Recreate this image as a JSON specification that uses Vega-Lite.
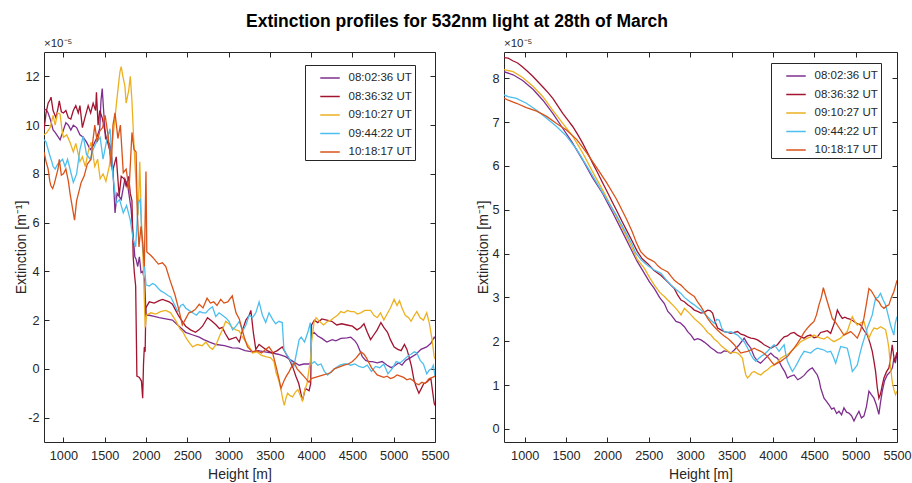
{
"$schema": "https://vega.github.io/schema/vega-lite/v6.json",
"background": "white",
"padding": {"left": 14, "top": 13, "right": 0, "bottom": 0},
"title": {"text": "Extinction profiles for 532nm light at 28th of March", "fontSize": 17.5, "fontWeight": "bold", "color": "#000000", "anchor": "middle", "offset": 7, "dx": -6},
"config": {
  "font": "Liberation Sans",
  "view": {"stroke": "#262626", "strokeWidth": 1},
  "axis": {"domain": false, "offset": -5, "tickSize": 5, "tickWidth": 1, "tickColor": "#262626", "labelColor": "#262626", "titleColor": "#262626", "labelFontSize": 12.7, "titleFontSize": 14, "titleFontWeight": "normal", "grid": false, "labelOverlap": false, "labelFlush": false, "labelBound": false},
  "axisX": {"labelPadding": 7},
  "axisY": {"labelPadding": 5},
  "legend": {"strokeColor": "#262626", "fillColor": "white", "padding": 2.5, "symbolType": "stroke", "symbolSize": 380, "symbolStrokeWidth": 1.5, "labelFontSize": 11.5, "labelColor": "#262626", "labelOffset": 8, "rowPadding": 2.5, "symbolOffset": 12}
},
"datasets": {
"L": [
{"t":"08:02:36 UT","h":765,"e":10.6},{"t":"08:02:36 UT","h":790,"e":10.65},{"t":"08:02:36 UT","h":815,"e":10.5},{"t":"08:02:36 UT","h":845,"e":10.2},{"t":"08:02:36 UT","h":875,"e":9.8},{"t":"08:02:36 UT","h":900,"e":9.7},{"t":"08:02:36 UT","h":930,"e":9.55},{"t":"08:02:36 UT","h":960,"e":9.4},{"t":"08:02:36 UT","h":990,"e":9.7},{"t":"08:02:36 UT","h":1030,"e":10.1},{"t":"08:02:36 UT","h":1060,"e":10.0},{"t":"08:02:36 UT","h":1090,"e":9.8},{"t":"08:02:36 UT","h":1120,"e":10.0},{"t":"08:02:36 UT","h":1160,"e":9.9},{"t":"08:02:36 UT","h":1200,"e":9.6},{"t":"08:02:36 UT","h":1240,"e":9.5},{"t":"08:02:36 UT","h":1280,"e":9.3},{"t":"08:02:36 UT","h":1325,"e":9.0},{"t":"08:02:36 UT","h":1360,"e":9.15},{"t":"08:02:36 UT","h":1400,"e":9.45},{"t":"08:02:36 UT","h":1440,"e":9.85},{"t":"08:02:36 UT","h":1455,"e":11.0},{"t":"08:02:36 UT","h":1470,"e":11.5},{"t":"08:02:36 UT","h":1485,"e":10.7},{"t":"08:02:36 UT","h":1510,"e":9.45},{"t":"08:02:36 UT","h":1565,"e":9.2},{"t":"08:02:36 UT","h":1600,"e":8.2},{"t":"08:02:36 UT","h":1625,"e":6.4},{"t":"08:02:36 UT","h":1650,"e":7.2},{"t":"08:02:36 UT","h":1700,"e":6.95},{"t":"08:02:36 UT","h":1745,"e":7.8},{"t":"08:02:36 UT","h":1780,"e":7.5},{"t":"08:02:36 UT","h":1820,"e":6.55},{"t":"08:02:36 UT","h":1845,"e":5.45},{"t":"08:02:36 UT","h":1865,"e":4.6},{"t":"08:02:36 UT","h":1880,"e":4.5},{"t":"08:02:36 UT","h":1900,"e":4.2},{"t":"08:02:36 UT","h":1920,"e":4.6},{"t":"08:02:36 UT","h":1940,"e":3.95},{"t":"08:02:36 UT","h":1960,"e":4.0},{"t":"08:02:36 UT","h":1985,"e":3.6},{"t":"08:02:36 UT","h":2000,"e":2.2},{"t":"08:02:36 UT","h":2040,"e":2.2},{"t":"08:02:36 UT","h":2100,"e":2.15},{"t":"08:02:36 UT","h":2160,"e":2.1},{"t":"08:02:36 UT","h":2240,"e":2.05},{"t":"08:02:36 UT","h":2320,"e":2.0},{"t":"08:02:36 UT","h":2400,"e":1.75},{"t":"08:02:36 UT","h":2480,"e":1.5},{"t":"08:02:36 UT","h":2560,"e":1.4},{"t":"08:02:36 UT","h":2645,"e":1.3},{"t":"08:02:36 UT","h":2700,"e":1.2},{"t":"08:02:36 UT","h":2770,"e":1.1},{"t":"08:02:36 UT","h":2850,"e":1.0},{"t":"08:02:36 UT","h":2950,"e":0.95},{"t":"08:02:36 UT","h":3045,"e":0.86},{"t":"08:02:36 UT","h":3120,"e":0.85},{"t":"08:02:36 UT","h":3200,"e":0.75},{"t":"08:02:36 UT","h":3290,"e":0.7},{"t":"08:02:36 UT","h":3360,"e":0.75},{"t":"08:02:36 UT","h":3440,"e":0.7},{"t":"08:02:36 UT","h":3530,"e":0.65},{"t":"08:02:36 UT","h":3600,"e":0.6},{"t":"08:02:36 UT","h":3690,"e":0.5},{"t":"08:02:36 UT","h":3760,"e":0.35},{"t":"08:02:36 UT","h":3855,"e":0.15},{"t":"08:02:36 UT","h":3910,"e":0.2},{"t":"08:02:36 UT","h":3970,"e":0.2},{"t":"08:02:36 UT","h":3995,"e":0.25},{"t":"08:02:36 UT","h":4005,"e":1.4},{"t":"08:02:36 UT","h":4035,"e":1.5},{"t":"08:02:36 UT","h":4080,"e":1.35},{"t":"08:02:36 UT","h":4130,"e":1.25},{"t":"08:02:36 UT","h":4190,"e":1.1},{"t":"08:02:36 UT","h":4255,"e":1.2},{"t":"08:02:36 UT","h":4300,"e":1.15},{"t":"08:02:36 UT","h":4360,"e":1.25},{"t":"08:02:36 UT","h":4435,"e":1.27},{"t":"08:02:36 UT","h":4480,"e":1.3},{"t":"08:02:36 UT","h":4530,"e":1.15},{"t":"08:02:36 UT","h":4560,"e":1.0},{"t":"08:02:36 UT","h":4590,"e":0.75},{"t":"08:02:36 UT","h":4620,"e":0.5},{"t":"08:02:36 UT","h":4660,"e":0.35},{"t":"08:02:36 UT","h":4700,"e":0.3},{"t":"08:02:36 UT","h":4740,"e":0.3},{"t":"08:02:36 UT","h":4800,"e":0.25},{"t":"08:02:36 UT","h":4860,"e":0.3},{"t":"08:02:36 UT","h":4920,"e":0.15},{"t":"08:02:36 UT","h":4970,"e":0.05},{"t":"08:02:36 UT","h":5000,"e":0.1},{"t":"08:02:36 UT","h":5060,"e":0.25},{"t":"08:02:36 UT","h":5100,"e":0.15},{"t":"08:02:36 UT","h":5145,"e":0.35},{"t":"08:02:36 UT","h":5200,"e":0.45},{"t":"08:02:36 UT","h":5270,"e":0.6},{"t":"08:02:36 UT","h":5330,"e":0.8},{"t":"08:02:36 UT","h":5400,"e":0.9},{"t":"08:02:36 UT","h":5450,"e":1.05},{"t":"08:02:36 UT","h":5490,"e":1.3},{"t":"08:02:36 UT","h":5500,"e":1.25},
{"t":"08:36:32 UT","h":765,"e":9.8},{"t":"08:36:32 UT","h":790,"e":10.5},{"t":"08:36:32 UT","h":815,"e":10.9},{"t":"08:36:32 UT","h":840,"e":11.05},{"t":"08:36:32 UT","h":850,"e":11.15},{"t":"08:36:32 UT","h":875,"e":10.6},{"t":"08:36:32 UT","h":910,"e":10.3},{"t":"08:36:32 UT","h":935,"e":10.7},{"t":"08:36:32 UT","h":950,"e":11.0},{"t":"08:36:32 UT","h":975,"e":10.55},{"t":"08:36:32 UT","h":1000,"e":10.5},{"t":"08:36:32 UT","h":1030,"e":10.6},{"t":"08:36:32 UT","h":1060,"e":10.3},{"t":"08:36:32 UT","h":1090,"e":10.25},{"t":"08:36:32 UT","h":1120,"e":10.6},{"t":"08:36:32 UT","h":1150,"e":10.8},{"t":"08:36:32 UT","h":1180,"e":10.5},{"t":"08:36:32 UT","h":1200,"e":10.8},{"t":"08:36:32 UT","h":1230,"e":9.9},{"t":"08:36:32 UT","h":1260,"e":10.3},{"t":"08:36:32 UT","h":1300,"e":10.8},{"t":"08:36:32 UT","h":1330,"e":10.5},{"t":"08:36:32 UT","h":1360,"e":10.9},{"t":"08:36:32 UT","h":1390,"e":10.6},{"t":"08:36:32 UT","h":1400,"e":11.35},{"t":"08:36:32 UT","h":1420,"e":10.0},{"t":"08:36:32 UT","h":1440,"e":10.6},{"t":"08:36:32 UT","h":1470,"e":10.3},{"t":"08:36:32 UT","h":1515,"e":9.55},{"t":"08:36:32 UT","h":1560,"e":9.0},{"t":"08:36:32 UT","h":1595,"e":8.1},{"t":"08:36:32 UT","h":1640,"e":8.7},{"t":"08:36:32 UT","h":1675,"e":7.1},{"t":"08:36:32 UT","h":1700,"e":7.9},{"t":"08:36:32 UT","h":1735,"e":7.8},{"t":"08:36:32 UT","h":1760,"e":7.5},{"t":"08:36:32 UT","h":1790,"e":7.9},{"t":"08:36:32 UT","h":1810,"e":7.2},{"t":"08:36:32 UT","h":1830,"e":6.9},{"t":"08:36:32 UT","h":1845,"e":4.6},{"t":"08:36:32 UT","h":1860,"e":3.9},{"t":"08:36:32 UT","h":1875,"e":3.4},{"t":"08:36:32 UT","h":1890,"e":-0.3},{"t":"08:36:32 UT","h":1920,"e":-0.35},{"t":"08:36:32 UT","h":1945,"e":-0.5},{"t":"08:36:32 UT","h":1960,"e":-1.2},{"t":"08:36:32 UT","h":1970,"e":0.2},{"t":"08:36:32 UT","h":1980,"e":0.9},{"t":"08:36:32 UT","h":1990,"e":0.7},{"t":"08:36:32 UT","h":1998,"e":2.5},{"t":"08:36:32 UT","h":2040,"e":2.75},{"t":"08:36:32 UT","h":2100,"e":2.7},{"t":"08:36:32 UT","h":2160,"e":2.8},{"t":"08:36:32 UT","h":2200,"e":2.85},{"t":"08:36:32 UT","h":2240,"e":2.8},{"t":"08:36:32 UT","h":2280,"e":2.75},{"t":"08:36:32 UT","h":2320,"e":2.65},{"t":"08:36:32 UT","h":2360,"e":2.4},{"t":"08:36:32 UT","h":2400,"e":2.15},{"t":"08:36:32 UT","h":2440,"e":1.95},{"t":"08:36:32 UT","h":2480,"e":1.75},{"t":"08:36:32 UT","h":2540,"e":1.6},{"t":"08:36:32 UT","h":2600,"e":1.5},{"t":"08:36:32 UT","h":2640,"e":1.6},{"t":"08:36:32 UT","h":2685,"e":1.75},{"t":"08:36:32 UT","h":2745,"e":2.1},{"t":"08:36:32 UT","h":2800,"e":1.95},{"t":"08:36:32 UT","h":2850,"e":1.8},{"t":"08:36:32 UT","h":2890,"e":1.65},{"t":"08:36:32 UT","h":2925,"e":1.7},{"t":"08:36:32 UT","h":2960,"e":1.45},{"t":"08:36:32 UT","h":3005,"e":1.2},{"t":"08:36:32 UT","h":3050,"e":1.25},{"t":"08:36:32 UT","h":3090,"e":1.3},{"t":"08:36:32 UT","h":3130,"e":1.1},{"t":"08:36:32 UT","h":3170,"e":1.6},{"t":"08:36:32 UT","h":3210,"e":2.0},{"t":"08:36:32 UT","h":3250,"e":2.2},{"t":"08:36:32 UT","h":3270,"e":2.4},{"t":"08:36:32 UT","h":3300,"e":1.5},{"t":"08:36:32 UT","h":3330,"e":0.8},{"t":"08:36:32 UT","h":3370,"e":1.0},{"t":"08:36:32 UT","h":3410,"e":0.9},{"t":"08:36:32 UT","h":3470,"e":0.75},{"t":"08:36:32 UT","h":3530,"e":0.65},{"t":"08:36:32 UT","h":3590,"e":0.75},{"t":"08:36:32 UT","h":3650,"e":0.9},{"t":"08:36:32 UT","h":3700,"e":0.6},{"t":"08:36:32 UT","h":3735,"e":0.4},{"t":"08:36:32 UT","h":3780,"e":0.05},{"t":"08:36:32 UT","h":3815,"e":-0.3},{"t":"08:36:32 UT","h":3850,"e":-0.6},{"t":"08:36:32 UT","h":3895,"e":-1.3},{"t":"08:36:32 UT","h":3930,"e":-0.8},{"t":"08:36:32 UT","h":3975,"e":-0.9},{"t":"08:36:32 UT","h":3995,"e":-0.6},{"t":"08:36:32 UT","h":4005,"e":1.8},{"t":"08:36:32 UT","h":4040,"e":2.0},{"t":"08:36:32 UT","h":4080,"e":1.9},{"t":"08:36:32 UT","h":4130,"e":2.05},{"t":"08:36:32 UT","h":4190,"e":2.0},{"t":"08:36:32 UT","h":4250,"e":1.95},{"t":"08:36:32 UT","h":4310,"e":1.8},{"t":"08:36:32 UT","h":4370,"e":1.85},{"t":"08:36:32 UT","h":4435,"e":1.8},{"t":"08:36:32 UT","h":4500,"e":1.75},{"t":"08:36:32 UT","h":4555,"e":1.6},{"t":"08:36:32 UT","h":4600,"e":1.7},{"t":"08:36:32 UT","h":4640,"e":1.85},{"t":"08:36:32 UT","h":4680,"e":1.5},{"t":"08:36:32 UT","h":4720,"e":1.2},{"t":"08:36:32 UT","h":4760,"e":1.4},{"t":"08:36:32 UT","h":4800,"e":1.6},{"t":"08:36:32 UT","h":4845,"e":1.9},{"t":"08:36:32 UT","h":4880,"e":1.7},{"t":"08:36:32 UT","h":4925,"e":1.5},{"t":"08:36:32 UT","h":4960,"e":1.2},{"t":"08:36:32 UT","h":5005,"e":0.9},{"t":"08:36:32 UT","h":5050,"e":0.8},{"t":"08:36:32 UT","h":5090,"e":0.75},{"t":"08:36:32 UT","h":5130,"e":1.0},{"t":"08:36:32 UT","h":5160,"e":0.8},{"t":"08:36:32 UT","h":5185,"e":0.5},{"t":"08:36:32 UT","h":5215,"e":0.1},{"t":"08:36:32 UT","h":5245,"e":-0.45},{"t":"08:36:32 UT","h":5275,"e":-0.75},{"t":"08:36:32 UT","h":5305,"e":-1.0},{"t":"08:36:32 UT","h":5335,"e":-0.8},{"t":"08:36:32 UT","h":5365,"e":-0.6},{"t":"08:36:32 UT","h":5400,"e":-0.55},{"t":"08:36:32 UT","h":5430,"e":-0.45},{"t":"08:36:32 UT","h":5450,"e":-0.4},{"t":"08:36:32 UT","h":5470,"e":-0.9},{"t":"08:36:32 UT","h":5490,"e":-1.4},{"t":"08:36:32 UT","h":5500,"e":-1.5},
{"t":"09:10:27 UT","h":765,"e":9.6},{"t":"09:10:27 UT","h":800,"e":9.7},{"t":"09:10:27 UT","h":840,"e":9.9},{"t":"09:10:27 UT","h":875,"e":10.4},{"t":"09:10:27 UT","h":900,"e":10.0},{"t":"09:10:27 UT","h":930,"e":10.5},{"t":"09:10:27 UT","h":960,"e":10.45},{"t":"09:10:27 UT","h":985,"e":9.75},{"t":"09:10:27 UT","h":1000,"e":9.5},{"t":"09:10:27 UT","h":1040,"e":9.6},{"t":"09:10:27 UT","h":1080,"e":9.3},{"t":"09:10:27 UT","h":1120,"e":8.9},{"t":"09:10:27 UT","h":1150,"e":9.25},{"t":"09:10:27 UT","h":1200,"e":8.5},{"t":"09:10:27 UT","h":1230,"e":8.7},{"t":"09:10:27 UT","h":1265,"e":8.3},{"t":"09:10:27 UT","h":1300,"e":8.9},{"t":"09:10:27 UT","h":1335,"e":9.3},{"t":"09:10:27 UT","h":1380,"e":8.3},{"t":"09:10:27 UT","h":1415,"e":8.6},{"t":"09:10:27 UT","h":1445,"e":7.8},{"t":"09:10:27 UT","h":1480,"e":8.0},{"t":"09:10:27 UT","h":1515,"e":7.7},{"t":"09:10:27 UT","h":1555,"e":8.3},{"t":"09:10:27 UT","h":1600,"e":9.5},{"t":"09:10:27 UT","h":1640,"e":10.8},{"t":"09:10:27 UT","h":1665,"e":11.6},{"t":"09:10:27 UT","h":1685,"e":12.2},{"t":"09:10:27 UT","h":1700,"e":12.4},{"t":"09:10:27 UT","h":1720,"e":12.0},{"t":"09:10:27 UT","h":1745,"e":11.6},{"t":"09:10:27 UT","h":1760,"e":10.9},{"t":"09:10:27 UT","h":1790,"e":11.4},{"t":"09:10:27 UT","h":1810,"e":12.0},{"t":"09:10:27 UT","h":1830,"e":11.0},{"t":"09:10:27 UT","h":1850,"e":9.5},{"t":"09:10:27 UT","h":1870,"e":8.2},{"t":"09:10:27 UT","h":1890,"e":7.0},{"t":"09:10:27 UT","h":1905,"e":6.3},{"t":"09:10:27 UT","h":1925,"e":8.5},{"t":"09:10:27 UT","h":1945,"e":6.0},{"t":"09:10:27 UT","h":1965,"e":4.5},{"t":"09:10:27 UT","h":1990,"e":1.7},{"t":"09:10:27 UT","h":2005,"e":2.2},{"t":"09:10:27 UT","h":2060,"e":2.3},{"t":"09:10:27 UT","h":2120,"e":2.25},{"t":"09:10:27 UT","h":2175,"e":2.35},{"t":"09:10:27 UT","h":2240,"e":2.4},{"t":"09:10:27 UT","h":2300,"e":2.3},{"t":"09:10:27 UT","h":2365,"e":1.95},{"t":"09:10:27 UT","h":2410,"e":1.65},{"t":"09:10:27 UT","h":2450,"e":1.5},{"t":"09:10:27 UT","h":2480,"e":1.3},{"t":"09:10:27 UT","h":2520,"e":1.1},{"t":"09:10:27 UT","h":2565,"e":0.9},{"t":"09:10:27 UT","h":2620,"e":1.0},{"t":"09:10:27 UT","h":2680,"e":0.95},{"t":"09:10:27 UT","h":2725,"e":1.1},{"t":"09:10:27 UT","h":2770,"e":0.9},{"t":"09:10:27 UT","h":2805,"e":0.8},{"t":"09:10:27 UT","h":2850,"e":1.0},{"t":"09:10:27 UT","h":2885,"e":1.3},{"t":"09:10:27 UT","h":2925,"e":1.6},{"t":"09:10:27 UT","h":2965,"e":1.95},{"t":"09:10:27 UT","h":3005,"e":1.85},{"t":"09:10:27 UT","h":3045,"e":1.7},{"t":"09:10:27 UT","h":3090,"e":1.6},{"t":"09:10:27 UT","h":3130,"e":1.55},{"t":"09:10:27 UT","h":3170,"e":1.3},{"t":"09:10:27 UT","h":3210,"e":1.1},{"t":"09:10:27 UT","h":3250,"e":0.9},{"t":"09:10:27 UT","h":3290,"e":0.65},{"t":"09:10:27 UT","h":3340,"e":0.7},{"t":"09:10:27 UT","h":3400,"e":0.55},{"t":"09:10:27 UT","h":3450,"e":0.5},{"t":"09:10:27 UT","h":3510,"e":0.45},{"t":"09:10:27 UT","h":3550,"e":0.3},{"t":"09:10:27 UT","h":3575,"e":-0.15},{"t":"09:10:27 UT","h":3610,"e":-0.5},{"t":"09:10:27 UT","h":3635,"e":-0.85},{"t":"09:10:27 UT","h":3660,"e":-1.3},{"t":"09:10:27 UT","h":3675,"e":-1.5},{"t":"09:10:27 UT","h":3695,"e":-1.2},{"t":"09:10:27 UT","h":3715,"e":-1.0},{"t":"09:10:27 UT","h":3745,"e":-1.1},{"t":"09:10:27 UT","h":3775,"e":-1.15},{"t":"09:10:27 UT","h":3810,"e":-0.95},{"t":"09:10:27 UT","h":3840,"e":-0.85},{"t":"09:10:27 UT","h":3870,"e":-1.1},{"t":"09:10:27 UT","h":3895,"e":-1.3},{"t":"09:10:27 UT","h":3920,"e":-0.9},{"t":"09:10:27 UT","h":3950,"e":-0.6},{"t":"09:10:27 UT","h":3975,"e":0.0},{"t":"09:10:27 UT","h":3990,"e":0.3},{"t":"09:10:27 UT","h":4005,"e":1.1},{"t":"09:10:27 UT","h":4035,"e":1.9},{"t":"09:10:27 UT","h":4060,"e":2.1},{"t":"09:10:27 UT","h":4100,"e":1.95},{"t":"09:10:27 UT","h":4150,"e":1.8},{"t":"09:10:27 UT","h":4200,"e":1.95},{"t":"09:10:27 UT","h":4240,"e":2.0},{"t":"09:10:27 UT","h":4275,"e":2.1},{"t":"09:10:27 UT","h":4320,"e":2.2},{"t":"09:10:27 UT","h":4360,"e":2.35},{"t":"09:10:27 UT","h":4400,"e":2.3},{"t":"09:10:27 UT","h":4440,"e":2.4},{"t":"09:10:27 UT","h":4480,"e":2.35},{"t":"09:10:27 UT","h":4520,"e":2.35},{"t":"09:10:27 UT","h":4560,"e":2.25},{"t":"09:10:27 UT","h":4600,"e":2.3},{"t":"09:10:27 UT","h":4650,"e":2.4},{"t":"09:10:27 UT","h":4720,"e":2.4},{"t":"09:10:27 UT","h":4760,"e":2.2},{"t":"09:10:27 UT","h":4800,"e":2.1},{"t":"09:10:27 UT","h":4840,"e":2.3},{"t":"09:10:27 UT","h":4880,"e":2.0},{"t":"09:10:27 UT","h":4920,"e":2.25},{"t":"09:10:27 UT","h":4960,"e":2.5},{"t":"09:10:27 UT","h":5005,"e":2.85},{"t":"09:10:27 UT","h":5040,"e":2.6},{"t":"09:10:27 UT","h":5070,"e":2.8},{"t":"09:10:27 UT","h":5100,"e":2.5},{"t":"09:10:27 UT","h":5140,"e":2.2},{"t":"09:10:27 UT","h":5180,"e":2.1},{"t":"09:10:27 UT","h":5210,"e":1.95},{"t":"09:10:27 UT","h":5250,"e":2.2},{"t":"09:10:27 UT","h":5280,"e":2.35},{"t":"09:10:27 UT","h":5320,"e":2.1},{"t":"09:10:27 UT","h":5360,"e":2.0},{"t":"09:10:27 UT","h":5400,"e":2.3},{"t":"09:10:27 UT","h":5430,"e":1.9},{"t":"09:10:27 UT","h":5465,"e":1.2},{"t":"09:10:27 UT","h":5490,"e":0.5},{"t":"09:10:27 UT","h":5500,"e":0.4},
{"t":"09:44:22 UT","h":765,"e":9.4},{"t":"09:44:22 UT","h":790,"e":9.3},{"t":"09:44:22 UT","h":815,"e":9.0},{"t":"09:44:22 UT","h":840,"e":8.7},{"t":"09:44:22 UT","h":860,"e":8.5},{"t":"09:44:22 UT","h":875,"e":8.3},{"t":"09:44:22 UT","h":900,"e":8.2},{"t":"09:44:22 UT","h":930,"e":8.4},{"t":"09:44:22 UT","h":960,"e":8.5},{"t":"09:44:22 UT","h":990,"e":8.6},{"t":"09:44:22 UT","h":1020,"e":8.3},{"t":"09:44:22 UT","h":1050,"e":8.6},{"t":"09:44:22 UT","h":1080,"e":8.2},{"t":"09:44:22 UT","h":1120,"e":7.65},{"t":"09:44:22 UT","h":1160,"e":8.0},{"t":"09:44:22 UT","h":1200,"e":9.0},{"t":"09:44:22 UT","h":1240,"e":9.55},{"t":"09:44:22 UT","h":1280,"e":8.8},{"t":"09:44:22 UT","h":1325,"e":8.6},{"t":"09:44:22 UT","h":1360,"e":9.0},{"t":"09:44:22 UT","h":1400,"e":9.3},{"t":"09:44:22 UT","h":1445,"e":9.5},{"t":"09:44:22 UT","h":1480,"e":8.6},{"t":"09:44:22 UT","h":1520,"e":9.3},{"t":"09:44:22 UT","h":1565,"e":9.85},{"t":"09:44:22 UT","h":1600,"e":7.9},{"t":"09:44:22 UT","h":1640,"e":6.8},{"t":"09:44:22 UT","h":1680,"e":6.95},{"t":"09:44:22 UT","h":1725,"e":6.4},{"t":"09:44:22 UT","h":1765,"e":6.7},{"t":"09:44:22 UT","h":1810,"e":6.1},{"t":"09:44:22 UT","h":1845,"e":5.3},{"t":"09:44:22 UT","h":1875,"e":5.0},{"t":"09:44:22 UT","h":1905,"e":6.8},{"t":"09:44:22 UT","h":1930,"e":6.95},{"t":"09:44:22 UT","h":1950,"e":5.5},{"t":"09:44:22 UT","h":1975,"e":4.5},{"t":"09:44:22 UT","h":2000,"e":3.45},{"t":"09:44:22 UT","h":2040,"e":3.4},{"t":"09:44:22 UT","h":2080,"e":3.5},{"t":"09:44:22 UT","h":2110,"e":3.45},{"t":"09:44:22 UT","h":2150,"e":3.3},{"t":"09:44:22 UT","h":2180,"e":3.2},{"t":"09:44:22 UT","h":2230,"e":3.1},{"t":"09:44:22 UT","h":2270,"e":3.0},{"t":"09:44:22 UT","h":2300,"e":2.95},{"t":"09:44:22 UT","h":2350,"e":2.6},{"t":"09:44:22 UT","h":2385,"e":2.35},{"t":"09:44:22 UT","h":2420,"e":2.6},{"t":"09:44:22 UT","h":2450,"e":2.65},{"t":"09:44:22 UT","h":2480,"e":2.5},{"t":"09:44:22 UT","h":2520,"e":2.4},{"t":"09:44:22 UT","h":2565,"e":2.3},{"t":"09:44:22 UT","h":2610,"e":2.2},{"t":"09:44:22 UT","h":2650,"e":2.35},{"t":"09:44:22 UT","h":2690,"e":2.3},{"t":"09:44:22 UT","h":2725,"e":2.3},{"t":"09:44:22 UT","h":2765,"e":2.45},{"t":"09:44:22 UT","h":2805,"e":2.55},{"t":"09:44:22 UT","h":2845,"e":2.15},{"t":"09:44:22 UT","h":2885,"e":2.3},{"t":"09:44:22 UT","h":2925,"e":2.2},{"t":"09:44:22 UT","h":2965,"e":2.1},{"t":"09:44:22 UT","h":3005,"e":1.95},{"t":"09:44:22 UT","h":3050,"e":1.6},{"t":"09:44:22 UT","h":3090,"e":1.75},{"t":"09:44:22 UT","h":3130,"e":1.95},{"t":"09:44:22 UT","h":3170,"e":1.55},{"t":"09:44:22 UT","h":3210,"e":1.8},{"t":"09:44:22 UT","h":3250,"e":2.2},{"t":"09:44:22 UT","h":3290,"e":2.1},{"t":"09:44:22 UT","h":3330,"e":2.3},{"t":"09:44:22 UT","h":3370,"e":2.75},{"t":"09:44:22 UT","h":3410,"e":2.2},{"t":"09:44:22 UT","h":3450,"e":1.9},{"t":"09:44:22 UT","h":3490,"e":2.3},{"t":"09:44:22 UT","h":3530,"e":2.05},{"t":"09:44:22 UT","h":3570,"e":1.85},{"t":"09:44:22 UT","h":3610,"e":1.95},{"t":"09:44:22 UT","h":3650,"e":1.9},{"t":"09:44:22 UT","h":3670,"e":0.8},{"t":"09:44:22 UT","h":3700,"e":0.6},{"t":"09:44:22 UT","h":3740,"e":0.4},{"t":"09:44:22 UT","h":3790,"e":0.1},{"t":"09:44:22 UT","h":3820,"e":0.6},{"t":"09:44:22 UT","h":3855,"e":1.2},{"t":"09:44:22 UT","h":3880,"e":1.3},{"t":"09:44:22 UT","h":3920,"e":1.1},{"t":"09:44:22 UT","h":3960,"e":1.5},{"t":"09:44:22 UT","h":3990,"e":1.9},{"t":"09:44:22 UT","h":4005,"e":0.2},{"t":"09:44:22 UT","h":4040,"e":0.3},{"t":"09:44:22 UT","h":4080,"e":0.15},{"t":"09:44:22 UT","h":4120,"e":0.2},{"t":"09:44:22 UT","h":4160,"e":-0.1},{"t":"09:44:22 UT","h":4200,"e":-0.25},{"t":"09:44:22 UT","h":4250,"e":-0.1},{"t":"09:44:22 UT","h":4300,"e":0.05},{"t":"09:44:22 UT","h":4350,"e":0.15},{"t":"09:44:22 UT","h":4400,"e":0.2},{"t":"09:44:22 UT","h":4435,"e":0.2},{"t":"09:44:22 UT","h":4480,"e":0.15},{"t":"09:44:22 UT","h":4530,"e":0.2},{"t":"09:44:22 UT","h":4580,"e":0.1},{"t":"09:44:22 UT","h":4630,"e":0.05},{"t":"09:44:22 UT","h":4680,"e":0.15},{"t":"09:44:22 UT","h":4730,"e":-0.1},{"t":"09:44:22 UT","h":4780,"e":0.1},{"t":"09:44:22 UT","h":4830,"e":0.05},{"t":"09:44:22 UT","h":4880,"e":0.2},{"t":"09:44:22 UT","h":4930,"e":-0.2},{"t":"09:44:22 UT","h":4980,"e":0.0},{"t":"09:44:22 UT","h":5030,"e":0.3},{"t":"09:44:22 UT","h":5080,"e":0.25},{"t":"09:44:22 UT","h":5130,"e":0.4},{"t":"09:44:22 UT","h":5180,"e":0.55},{"t":"09:44:22 UT","h":5210,"e":0.6},{"t":"09:44:22 UT","h":5250,"e":0.7},{"t":"09:44:22 UT","h":5280,"e":0.65},{"t":"09:44:22 UT","h":5320,"e":0.35},{"t":"09:44:22 UT","h":5360,"e":0.2},{"t":"09:44:22 UT","h":5400,"e":-0.2},{"t":"09:44:22 UT","h":5430,"e":-0.05},{"t":"09:44:22 UT","h":5460,"e":0.0},{"t":"09:44:22 UT","h":5480,"e":0.15},{"t":"09:44:22 UT","h":5500,"e":-0.3},
{"t":"10:18:17 UT","h":765,"e":8.9},{"t":"10:18:17 UT","h":790,"e":8.5},{"t":"10:18:17 UT","h":815,"e":8.2},{"t":"10:18:17 UT","h":835,"e":7.7},{"t":"10:18:17 UT","h":850,"e":7.5},{"t":"10:18:17 UT","h":870,"e":7.4},{"t":"10:18:17 UT","h":890,"e":7.6},{"t":"10:18:17 UT","h":935,"e":8.2},{"t":"10:18:17 UT","h":950,"e":8.6},{"t":"10:18:17 UT","h":975,"e":7.95},{"t":"10:18:17 UT","h":1000,"e":8.0},{"t":"10:18:17 UT","h":1030,"e":8.2},{"t":"10:18:17 UT","h":1060,"e":7.7},{"t":"10:18:17 UT","h":1080,"e":7.2},{"t":"10:18:17 UT","h":1100,"e":6.8},{"t":"10:18:17 UT","h":1120,"e":6.4},{"t":"10:18:17 UT","h":1135,"e":6.1},{"t":"10:18:17 UT","h":1160,"e":6.9},{"t":"10:18:17 UT","h":1190,"e":7.3},{"t":"10:18:17 UT","h":1215,"e":7.65},{"t":"10:18:17 UT","h":1250,"e":7.9},{"t":"10:18:17 UT","h":1290,"e":8.4},{"t":"10:18:17 UT","h":1335,"e":8.6},{"t":"10:18:17 UT","h":1355,"e":9.3},{"t":"10:18:17 UT","h":1380,"e":10.0},{"t":"10:18:17 UT","h":1410,"e":9.3},{"t":"10:18:17 UT","h":1440,"e":9.75},{"t":"10:18:17 UT","h":1475,"e":9.9},{"t":"10:18:17 UT","h":1505,"e":10.4},{"t":"10:18:17 UT","h":1540,"e":9.6},{"t":"10:18:17 UT","h":1580,"e":8.3},{"t":"10:18:17 UT","h":1600,"e":10.0},{"t":"10:18:17 UT","h":1625,"e":10.5},{"t":"10:18:17 UT","h":1660,"e":9.45},{"t":"10:18:17 UT","h":1690,"e":10.0},{"t":"10:18:17 UT","h":1725,"e":8.05},{"t":"10:18:17 UT","h":1760,"e":8.2},{"t":"10:18:17 UT","h":1795,"e":7.35},{"t":"10:18:17 UT","h":1830,"e":9.7},{"t":"10:18:17 UT","h":1855,"e":9.0},{"t":"10:18:17 UT","h":1880,"e":8.9},{"t":"10:18:17 UT","h":1895,"e":6.4},{"t":"10:18:17 UT","h":1915,"e":5.0},{"t":"10:18:17 UT","h":1940,"e":5.85},{"t":"10:18:17 UT","h":1960,"e":5.2},{"t":"10:18:17 UT","h":1980,"e":4.2},{"t":"10:18:17 UT","h":2000,"e":8.1},{"t":"10:18:17 UT","h":2010,"e":4.8},{"t":"10:18:17 UT","h":2060,"e":4.65},{"t":"10:18:17 UT","h":2100,"e":4.5},{"t":"10:18:17 UT","h":2150,"e":4.3},{"t":"10:18:17 UT","h":2200,"e":4.35},{"t":"10:18:17 UT","h":2240,"e":4.2},{"t":"10:18:17 UT","h":2290,"e":3.65},{"t":"10:18:17 UT","h":2350,"e":3.05},{"t":"10:18:17 UT","h":2400,"e":2.4},{"t":"10:18:17 UT","h":2440,"e":1.8},{"t":"10:18:17 UT","h":2480,"e":2.05},{"t":"10:18:17 UT","h":2520,"e":2.3},{"t":"10:18:17 UT","h":2560,"e":2.35},{"t":"10:18:17 UT","h":2600,"e":2.45},{"t":"10:18:17 UT","h":2645,"e":2.65},{"t":"10:18:17 UT","h":2690,"e":2.5},{"t":"10:18:17 UT","h":2740,"e":2.9},{"t":"10:18:17 UT","h":2780,"e":2.7},{"t":"10:18:17 UT","h":2820,"e":2.75},{"t":"10:18:17 UT","h":2860,"e":2.6},{"t":"10:18:17 UT","h":2905,"e":2.85},{"t":"10:18:17 UT","h":2945,"e":2.7},{"t":"10:18:17 UT","h":2990,"e":2.75},{"t":"10:18:17 UT","h":3045,"e":3.0},{"t":"10:18:17 UT","h":3070,"e":2.6},{"t":"10:18:17 UT","h":3090,"e":2.3},{"t":"10:18:17 UT","h":3130,"e":2.05},{"t":"10:18:17 UT","h":3190,"e":1.3},{"t":"10:18:17 UT","h":3230,"e":0.9},{"t":"10:18:17 UT","h":3290,"e":0.7},{"t":"10:18:17 UT","h":3340,"e":0.75},{"t":"10:18:17 UT","h":3400,"e":0.65},{"t":"10:18:17 UT","h":3450,"e":0.8},{"t":"10:18:17 UT","h":3490,"e":0.9},{"t":"10:18:17 UT","h":3530,"e":0.7},{"t":"10:18:17 UT","h":3575,"e":0.1},{"t":"10:18:17 UT","h":3610,"e":-0.4},{"t":"10:18:17 UT","h":3635,"e":-0.8},{"t":"10:18:17 UT","h":3670,"e":-0.5},{"t":"10:18:17 UT","h":3700,"e":-0.3},{"t":"10:18:17 UT","h":3735,"e":-0.1},{"t":"10:18:17 UT","h":3765,"e":0.1},{"t":"10:18:17 UT","h":3795,"e":0.25},{"t":"10:18:17 UT","h":3830,"e":0.0},{"t":"10:18:17 UT","h":3870,"e":-0.15},{"t":"10:18:17 UT","h":3910,"e":-0.3},{"t":"10:18:17 UT","h":3950,"e":-0.45},{"t":"10:18:17 UT","h":3975,"e":-0.55},{"t":"10:18:17 UT","h":4000,"e":-0.4},{"t":"10:18:17 UT","h":4050,"e":-0.35},{"t":"10:18:17 UT","h":4100,"e":-0.3},{"t":"10:18:17 UT","h":4150,"e":-0.25},{"t":"10:18:17 UT","h":4200,"e":-0.2},{"t":"10:18:17 UT","h":4240,"e":-0.15},{"t":"10:18:17 UT","h":4280,"e":0.0},{"t":"10:18:17 UT","h":4320,"e":0.05},{"t":"10:18:17 UT","h":4360,"e":0.1},{"t":"10:18:17 UT","h":4400,"e":0.15},{"t":"10:18:17 UT","h":4450,"e":0.2},{"t":"10:18:17 UT","h":4500,"e":0.3},{"t":"10:18:17 UT","h":4545,"e":0.45},{"t":"10:18:17 UT","h":4580,"e":0.6},{"t":"10:18:17 UT","h":4605,"e":0.7},{"t":"10:18:17 UT","h":4640,"e":0.6},{"t":"10:18:17 UT","h":4670,"e":0.45},{"t":"10:18:17 UT","h":4700,"e":0.25},{"t":"10:18:17 UT","h":4730,"e":0.05},{"t":"10:18:17 UT","h":4765,"e":-0.1},{"t":"10:18:17 UT","h":4800,"e":-0.25},{"t":"10:18:17 UT","h":4840,"e":-0.3},{"t":"10:18:17 UT","h":4880,"e":-0.35},{"t":"10:18:17 UT","h":4920,"e":-0.3},{"t":"10:18:17 UT","h":4960,"e":-0.4},{"t":"10:18:17 UT","h":5000,"e":-0.35},{"t":"10:18:17 UT","h":5040,"e":-0.25},{"t":"10:18:17 UT","h":5080,"e":-0.3},{"t":"10:18:17 UT","h":5120,"e":-0.35},{"t":"10:18:17 UT","h":5160,"e":-0.45},{"t":"10:18:17 UT","h":5200,"e":-0.4},{"t":"10:18:17 UT","h":5240,"e":-0.5},{"t":"10:18:17 UT","h":5270,"e":-0.6},{"t":"10:18:17 UT","h":5305,"e":-0.65},{"t":"10:18:17 UT","h":5340,"e":-0.55},{"t":"10:18:17 UT","h":5380,"e":-0.6},{"t":"10:18:17 UT","h":5430,"e":-0.4},{"t":"10:18:17 UT","h":5470,"e":-0.35},{"t":"10:18:17 UT","h":5500,"e":-0.3}
],
"R": [
{"t":"08:02:36 UT","h":750,"e":8.15},{"t":"08:02:36 UT","h":860,"e":8.08},{"t":"08:02:36 UT","h":975,"e":7.95},{"t":"08:02:36 UT","h":1100,"e":7.75},{"t":"08:02:36 UT","h":1220,"e":7.5},{"t":"08:02:36 UT","h":1340,"e":7.2},{"t":"08:02:36 UT","h":1460,"e":6.86},{"t":"08:02:36 UT","h":1580,"e":6.52},{"t":"08:02:36 UT","h":1700,"e":6.14},{"t":"08:02:36 UT","h":1820,"e":5.73},{"t":"08:02:36 UT","h":1940,"e":5.38},{"t":"08:02:36 UT","h":2060,"e":4.95},{"t":"08:02:36 UT","h":2180,"e":4.5},{"t":"08:02:36 UT","h":2280,"e":4.12},{"t":"08:02:36 UT","h":2360,"e":3.82},{"t":"08:02:36 UT","h":2447,"e":3.55},{"t":"08:02:36 UT","h":2510,"e":3.35},{"t":"08:02:36 UT","h":2568,"e":3.2},{"t":"08:02:36 UT","h":2630,"e":3.0},{"t":"08:02:36 UT","h":2688,"e":2.86},{"t":"08:02:36 UT","h":2730,"e":2.68},{"t":"08:02:36 UT","h":2769,"e":2.6},{"t":"08:02:36 UT","h":2829,"e":2.45},{"t":"08:02:36 UT","h":2880,"e":2.42},{"t":"08:02:36 UT","h":2930,"e":2.33},{"t":"08:02:36 UT","h":2970,"e":2.22},{"t":"08:02:36 UT","h":3010,"e":2.14},{"t":"08:02:36 UT","h":3050,"e":2.03},{"t":"08:02:36 UT","h":3090,"e":2.06},{"t":"08:02:36 UT","h":3131,"e":2.03},{"t":"08:02:36 UT","h":3170,"e":1.98},{"t":"08:02:36 UT","h":3211,"e":1.92},{"t":"08:02:36 UT","h":3250,"e":1.85},{"t":"08:02:36 UT","h":3291,"e":1.8},{"t":"08:02:36 UT","h":3330,"e":1.74},{"t":"08:02:36 UT","h":3372,"e":1.73},{"t":"08:02:36 UT","h":3410,"e":1.78},{"t":"08:02:36 UT","h":3452,"e":1.77},{"t":"08:02:36 UT","h":3490,"e":1.72},{"t":"08:02:36 UT","h":3533,"e":1.8},{"t":"08:02:36 UT","h":3593,"e":1.92},{"t":"08:02:36 UT","h":3653,"e":2.07},{"t":"08:02:36 UT","h":3690,"e":1.95},{"t":"08:02:36 UT","h":3734,"e":1.84},{"t":"08:02:36 UT","h":3774,"e":1.65},{"t":"08:02:36 UT","h":3814,"e":1.54},{"t":"08:02:36 UT","h":3850,"e":1.5},{"t":"08:02:36 UT","h":3894,"e":1.58},{"t":"08:02:36 UT","h":3935,"e":1.66},{"t":"08:02:36 UT","h":3975,"e":1.73},{"t":"08:02:36 UT","h":4015,"e":1.65},{"t":"08:02:36 UT","h":4055,"e":1.61},{"t":"08:02:36 UT","h":4085,"e":1.5},{"t":"08:02:36 UT","h":4115,"e":1.39},{"t":"08:02:36 UT","h":4145,"e":1.3},{"t":"08:02:36 UT","h":4176,"e":1.16},{"t":"08:02:36 UT","h":4210,"e":1.2},{"t":"08:02:36 UT","h":4256,"e":1.23},{"t":"08:02:36 UT","h":4300,"e":1.12},{"t":"08:02:36 UT","h":4337,"e":1.16},{"t":"08:02:36 UT","h":4377,"e":1.22},{"t":"08:02:36 UT","h":4417,"e":1.31},{"t":"08:02:36 UT","h":4447,"e":1.36},{"t":"08:02:36 UT","h":4477,"e":1.39},{"t":"08:02:36 UT","h":4510,"e":1.3},{"t":"08:02:36 UT","h":4537,"e":1.23},{"t":"08:02:36 UT","h":4560,"e":1.1},{"t":"08:02:36 UT","h":4578,"e":0.93},{"t":"08:02:36 UT","h":4600,"e":0.8},{"t":"08:02:36 UT","h":4618,"e":0.7},{"t":"08:02:36 UT","h":4650,"e":0.62},{"t":"08:02:36 UT","h":4678,"e":0.55},{"t":"08:02:36 UT","h":4710,"e":0.45},{"t":"08:02:36 UT","h":4738,"e":0.48},{"t":"08:02:36 UT","h":4770,"e":0.35},{"t":"08:02:36 UT","h":4799,"e":0.4},{"t":"08:02:36 UT","h":4830,"e":0.32},{"t":"08:02:36 UT","h":4859,"e":0.48},{"t":"08:02:36 UT","h":4890,"e":0.38},{"t":"08:02:36 UT","h":4919,"e":0.36},{"t":"08:02:36 UT","h":4950,"e":0.3},{"t":"08:02:36 UT","h":4980,"e":0.18},{"t":"08:02:36 UT","h":5010,"e":0.3},{"t":"08:02:36 UT","h":5040,"e":0.4},{"t":"08:02:36 UT","h":5070,"e":0.25},{"t":"08:02:36 UT","h":5100,"e":0.29},{"t":"08:02:36 UT","h":5130,"e":0.5},{"t":"08:02:36 UT","h":5161,"e":0.86},{"t":"08:02:36 UT","h":5190,"e":0.78},{"t":"08:02:36 UT","h":5221,"e":0.7},{"t":"08:02:36 UT","h":5250,"e":0.55},{"t":"08:02:36 UT","h":5281,"e":0.33},{"t":"08:02:36 UT","h":5300,"e":0.6},{"t":"08:02:36 UT","h":5322,"e":0.86},{"t":"08:02:36 UT","h":5350,"e":1.1},{"t":"08:02:36 UT","h":5382,"e":1.23},{"t":"08:02:36 UT","h":5422,"e":1.31},{"t":"08:02:36 UT","h":5445,"e":1.4},{"t":"08:02:36 UT","h":5462,"e":1.61},{"t":"08:02:36 UT","h":5480,"e":1.5},{"t":"08:02:36 UT","h":5500,"e":1.7},
{"t":"08:36:32 UT","h":750,"e":8.47},{"t":"08:36:32 UT","h":800,"e":8.46},{"t":"08:36:32 UT","h":855,"e":8.4},{"t":"08:36:32 UT","h":915,"e":8.35},{"t":"08:36:32 UT","h":975,"e":8.26},{"t":"08:36:32 UT","h":1040,"e":8.15},{"t":"08:36:32 UT","h":1100,"e":8.04},{"t":"08:36:32 UT","h":1160,"e":7.92},{"t":"08:36:32 UT","h":1220,"e":7.8},{"t":"08:36:32 UT","h":1280,"e":7.68},{"t":"08:36:32 UT","h":1340,"e":7.54},{"t":"08:36:32 UT","h":1400,"e":7.37},{"t":"08:36:32 UT","h":1460,"e":7.2},{"t":"08:36:32 UT","h":1520,"e":7.05},{"t":"08:36:32 UT","h":1580,"e":6.9},{"t":"08:36:32 UT","h":1640,"e":6.72},{"t":"08:36:32 UT","h":1700,"e":6.52},{"t":"08:36:32 UT","h":1760,"e":6.3},{"t":"08:36:32 UT","h":1820,"e":6.07},{"t":"08:36:32 UT","h":1880,"e":5.85},{"t":"08:36:32 UT","h":1940,"e":5.62},{"t":"08:36:32 UT","h":2000,"e":5.4},{"t":"08:36:32 UT","h":2060,"e":5.17},{"t":"08:36:32 UT","h":2120,"e":4.95},{"t":"08:36:32 UT","h":2180,"e":4.72},{"t":"08:36:32 UT","h":2240,"e":4.5},{"t":"08:36:32 UT","h":2300,"e":4.28},{"t":"08:36:32 UT","h":2360,"e":4.05},{"t":"08:36:32 UT","h":2420,"e":3.88},{"t":"08:36:32 UT","h":2487,"e":3.77},{"t":"08:36:32 UT","h":2560,"e":3.62},{"t":"08:36:32 UT","h":2648,"e":3.5},{"t":"08:36:32 UT","h":2730,"e":3.35},{"t":"08:36:32 UT","h":2809,"e":3.2},{"t":"08:36:32 UT","h":2850,"e":3.05},{"t":"08:36:32 UT","h":2889,"e":2.94},{"t":"08:36:32 UT","h":2930,"e":2.9},{"t":"08:36:32 UT","h":2970,"e":2.83},{"t":"08:36:32 UT","h":3010,"e":2.78},{"t":"08:36:32 UT","h":3050,"e":2.71},{"t":"08:36:32 UT","h":3090,"e":2.68},{"t":"08:36:32 UT","h":3131,"e":2.64},{"t":"08:36:32 UT","h":3170,"e":2.66},{"t":"08:36:32 UT","h":3211,"e":2.71},{"t":"08:36:32 UT","h":3240,"e":2.7},{"t":"08:36:32 UT","h":3271,"e":2.64},{"t":"08:36:32 UT","h":3300,"e":2.45},{"t":"08:36:32 UT","h":3332,"e":2.3},{"t":"08:36:32 UT","h":3372,"e":2.26},{"t":"08:36:32 UT","h":3412,"e":2.22},{"t":"08:36:32 UT","h":3452,"e":2.2},{"t":"08:36:32 UT","h":3492,"e":2.18},{"t":"08:36:32 UT","h":3533,"e":2.2},{"t":"08:36:32 UT","h":3573,"e":2.22},{"t":"08:36:32 UT","h":3613,"e":2.16},{"t":"08:36:32 UT","h":3653,"e":2.14},{"t":"08:36:32 UT","h":3693,"e":2.1},{"t":"08:36:32 UT","h":3734,"e":2.07},{"t":"08:36:32 UT","h":3774,"e":2.06},{"t":"08:36:32 UT","h":3814,"e":2.03},{"t":"08:36:32 UT","h":3854,"e":1.98},{"t":"08:36:32 UT","h":3894,"e":1.92},{"t":"08:36:32 UT","h":3935,"e":1.88},{"t":"08:36:32 UT","h":3975,"e":1.84},{"t":"08:36:32 UT","h":4015,"e":1.88},{"t":"08:36:32 UT","h":4055,"e":1.92},{"t":"08:36:32 UT","h":4095,"e":2.02},{"t":"08:36:32 UT","h":4136,"e":2.1},{"t":"08:36:32 UT","h":4176,"e":2.12},{"t":"08:36:32 UT","h":4216,"e":2.18},{"t":"08:36:32 UT","h":4256,"e":2.2},{"t":"08:36:32 UT","h":4296,"e":2.14},{"t":"08:36:32 UT","h":4337,"e":2.1},{"t":"08:36:32 UT","h":4377,"e":2.07},{"t":"08:36:32 UT","h":4417,"e":2.12},{"t":"08:36:32 UT","h":4457,"e":2.14},{"t":"08:36:32 UT","h":4497,"e":2.08},{"t":"08:36:32 UT","h":4537,"e":2.1},{"t":"08:36:32 UT","h":4577,"e":2.2},{"t":"08:36:32 UT","h":4618,"e":2.22},{"t":"08:36:32 UT","h":4658,"e":2.24},{"t":"08:36:32 UT","h":4698,"e":2.18},{"t":"08:36:32 UT","h":4740,"e":2.4},{"t":"08:36:32 UT","h":4779,"e":2.71},{"t":"08:36:32 UT","h":4810,"e":2.6},{"t":"08:36:32 UT","h":4839,"e":2.52},{"t":"08:36:32 UT","h":4870,"e":2.55},{"t":"08:36:32 UT","h":4899,"e":2.52},{"t":"08:36:32 UT","h":4940,"e":2.5},{"t":"08:36:32 UT","h":4980,"e":2.45},{"t":"08:36:32 UT","h":5020,"e":2.4},{"t":"08:36:32 UT","h":5060,"e":2.37},{"t":"08:36:32 UT","h":5100,"e":2.25},{"t":"08:36:32 UT","h":5141,"e":2.14},{"t":"08:36:32 UT","h":5175,"e":1.95},{"t":"08:36:32 UT","h":5201,"e":1.77},{"t":"08:36:32 UT","h":5221,"e":1.55},{"t":"08:36:32 UT","h":5241,"e":1.31},{"t":"08:36:32 UT","h":5261,"e":0.95},{"t":"08:36:32 UT","h":5281,"e":0.7},{"t":"08:36:32 UT","h":5301,"e":0.8},{"t":"08:36:32 UT","h":5322,"e":1.0},{"t":"08:36:32 UT","h":5342,"e":1.16},{"t":"08:36:32 UT","h":5372,"e":1.3},{"t":"08:36:32 UT","h":5402,"e":1.39},{"t":"08:36:32 UT","h":5422,"e":1.6},{"t":"08:36:32 UT","h":5442,"e":1.92},{"t":"08:36:32 UT","h":5458,"e":1.7},{"t":"08:36:32 UT","h":5470,"e":1.54},{"t":"08:36:32 UT","h":5485,"e":1.65},{"t":"08:36:32 UT","h":5500,"e":1.75},
{"t":"09:10:27 UT","h":750,"e":8.2},{"t":"09:10:27 UT","h":860,"e":8.15},{"t":"09:10:27 UT","h":975,"e":8.02},{"t":"09:10:27 UT","h":1100,"e":7.82},{"t":"09:10:27 UT","h":1220,"e":7.58},{"t":"09:10:27 UT","h":1340,"e":7.27},{"t":"09:10:27 UT","h":1460,"e":6.97},{"t":"09:10:27 UT","h":1580,"e":6.68},{"t":"09:10:27 UT","h":1700,"e":6.3},{"t":"09:10:27 UT","h":1820,"e":5.87},{"t":"09:10:27 UT","h":1940,"e":5.46},{"t":"09:10:27 UT","h":2060,"e":5.02},{"t":"09:10:27 UT","h":2180,"e":4.58},{"t":"09:10:27 UT","h":2280,"e":4.2},{"t":"09:10:27 UT","h":2360,"e":3.87},{"t":"09:10:27 UT","h":2447,"e":3.66},{"t":"09:10:27 UT","h":2510,"e":3.45},{"t":"09:10:27 UT","h":2568,"e":3.28},{"t":"09:10:27 UT","h":2630,"e":3.12},{"t":"09:10:27 UT","h":2688,"e":3.02},{"t":"09:10:27 UT","h":2750,"e":2.9},{"t":"09:10:27 UT","h":2809,"e":2.79},{"t":"09:10:27 UT","h":2850,"e":2.7},{"t":"09:10:27 UT","h":2889,"e":2.6},{"t":"09:10:27 UT","h":2930,"e":2.75},{"t":"09:10:27 UT","h":2970,"e":2.68},{"t":"09:10:27 UT","h":3010,"e":2.6},{"t":"09:10:27 UT","h":3050,"e":2.52},{"t":"09:10:27 UT","h":3090,"e":2.45},{"t":"09:10:27 UT","h":3131,"e":2.38},{"t":"09:10:27 UT","h":3171,"e":2.3},{"t":"09:10:27 UT","h":3211,"e":2.2},{"t":"09:10:27 UT","h":3251,"e":2.14},{"t":"09:10:27 UT","h":3290,"e":2.05},{"t":"09:10:27 UT","h":3332,"e":1.99},{"t":"09:10:27 UT","h":3372,"e":1.9},{"t":"09:10:27 UT","h":3412,"e":1.84},{"t":"09:10:27 UT","h":3452,"e":1.78},{"t":"09:10:27 UT","h":3492,"e":1.73},{"t":"09:10:27 UT","h":3533,"e":1.75},{"t":"09:10:27 UT","h":3573,"e":1.73},{"t":"09:10:27 UT","h":3603,"e":1.68},{"t":"09:10:27 UT","h":3633,"e":1.61},{"t":"09:10:27 UT","h":3653,"e":1.4},{"t":"09:10:27 UT","h":3673,"e":1.23},{"t":"09:10:27 UT","h":3693,"e":1.16},{"t":"09:10:27 UT","h":3713,"e":1.2},{"t":"09:10:27 UT","h":3744,"e":1.28},{"t":"09:10:27 UT","h":3774,"e":1.31},{"t":"09:10:27 UT","h":3814,"e":1.26},{"t":"09:10:27 UT","h":3854,"e":1.23},{"t":"09:10:27 UT","h":3895,"e":1.3},{"t":"09:10:27 UT","h":3935,"e":1.35},{"t":"09:10:27 UT","h":3975,"e":1.42},{"t":"09:10:27 UT","h":4015,"e":1.46},{"t":"09:10:27 UT","h":4055,"e":1.52},{"t":"09:10:27 UT","h":4095,"e":1.61},{"t":"09:10:27 UT","h":4136,"e":1.66},{"t":"09:10:27 UT","h":4176,"e":1.69},{"t":"09:10:27 UT","h":4216,"e":1.76},{"t":"09:10:27 UT","h":4256,"e":1.84},{"t":"09:10:27 UT","h":4296,"e":1.9},{"t":"09:10:27 UT","h":4337,"e":1.99},{"t":"09:10:27 UT","h":4377,"e":2.03},{"t":"09:10:27 UT","h":4417,"e":2.07},{"t":"09:10:27 UT","h":4457,"e":2.1},{"t":"09:10:27 UT","h":4497,"e":2.14},{"t":"09:10:27 UT","h":4537,"e":2.1},{"t":"09:10:27 UT","h":4578,"e":2.07},{"t":"09:10:27 UT","h":4618,"e":2.05},{"t":"09:10:27 UT","h":4658,"e":2.1},{"t":"09:10:27 UT","h":4698,"e":2.04},{"t":"09:10:27 UT","h":4738,"e":1.99},{"t":"09:10:27 UT","h":4779,"e":2.03},{"t":"09:10:27 UT","h":4819,"e":2.07},{"t":"09:10:27 UT","h":4859,"e":2.15},{"t":"09:10:27 UT","h":4899,"e":2.22},{"t":"09:10:27 UT","h":4930,"e":2.4},{"t":"09:10:27 UT","h":4960,"e":2.56},{"t":"09:10:27 UT","h":4990,"e":2.45},{"t":"09:10:27 UT","h":5020,"e":2.37},{"t":"09:10:27 UT","h":5060,"e":2.42},{"t":"09:10:27 UT","h":5100,"e":2.45},{"t":"09:10:27 UT","h":5130,"e":2.25},{"t":"09:10:27 UT","h":5161,"e":2.07},{"t":"09:10:27 UT","h":5190,"e":2.2},{"t":"09:10:27 UT","h":5221,"e":2.3},{"t":"09:10:27 UT","h":5260,"e":2.28},{"t":"09:10:27 UT","h":5301,"e":2.33},{"t":"09:10:27 UT","h":5330,"e":2.3},{"t":"09:10:27 UT","h":5362,"e":2.26},{"t":"09:10:27 UT","h":5385,"e":2.05},{"t":"09:10:27 UT","h":5402,"e":1.84},{"t":"09:10:27 UT","h":5422,"e":1.4},{"t":"09:10:27 UT","h":5442,"e":1.08},{"t":"09:10:27 UT","h":5462,"e":0.9},{"t":"09:10:27 UT","h":5482,"e":0.78},{"t":"09:10:27 UT","h":5500,"e":0.86},
{"t":"09:44:22 UT","h":750,"e":7.62},{"t":"09:44:22 UT","h":800,"e":7.58},{"t":"09:44:22 UT","h":900,"e":7.54},{"t":"09:44:22 UT","h":1020,"e":7.43},{"t":"09:44:22 UT","h":1145,"e":7.27},{"t":"09:44:22 UT","h":1265,"e":7.09},{"t":"09:44:22 UT","h":1385,"e":6.9},{"t":"09:44:22 UT","h":1505,"e":6.68},{"t":"09:44:22 UT","h":1630,"e":6.37},{"t":"09:44:22 UT","h":1750,"e":6.0},{"t":"09:44:22 UT","h":1870,"e":5.62},{"t":"09:44:22 UT","h":1990,"e":5.24},{"t":"09:44:22 UT","h":2110,"e":4.87},{"t":"09:44:22 UT","h":2230,"e":4.45},{"t":"09:44:22 UT","h":2300,"e":4.2},{"t":"09:44:22 UT","h":2340,"e":4.02},{"t":"09:44:22 UT","h":2410,"e":3.85},{"t":"09:44:22 UT","h":2487,"e":3.73},{"t":"09:44:22 UT","h":2560,"e":3.63},{"t":"09:44:22 UT","h":2648,"e":3.55},{"t":"09:44:22 UT","h":2710,"e":3.4},{"t":"09:44:22 UT","h":2769,"e":3.28},{"t":"09:44:22 UT","h":2830,"e":3.18},{"t":"09:44:22 UT","h":2889,"e":3.09},{"t":"09:44:22 UT","h":2930,"e":3.0},{"t":"09:44:22 UT","h":2970,"e":2.94},{"t":"09:44:22 UT","h":3010,"e":2.88},{"t":"09:44:22 UT","h":3050,"e":2.83},{"t":"09:44:22 UT","h":3090,"e":2.77},{"t":"09:44:22 UT","h":3131,"e":2.71},{"t":"09:44:22 UT","h":3171,"e":2.63},{"t":"09:44:22 UT","h":3211,"e":2.56},{"t":"09:44:22 UT","h":3251,"e":2.48},{"t":"09:44:22 UT","h":3291,"e":2.41},{"t":"09:44:22 UT","h":3322,"e":2.5},{"t":"09:44:22 UT","h":3352,"e":2.48},{"t":"09:44:22 UT","h":3382,"e":2.3},{"t":"09:44:22 UT","h":3412,"e":2.22},{"t":"09:44:22 UT","h":3452,"e":2.2},{"t":"09:44:22 UT","h":3492,"e":2.22},{"t":"09:44:22 UT","h":3533,"e":2.18},{"t":"09:44:22 UT","h":3573,"e":2.14},{"t":"09:44:22 UT","h":3613,"e":2.06},{"t":"09:44:22 UT","h":3653,"e":1.99},{"t":"09:44:22 UT","h":3693,"e":1.85},{"t":"09:44:22 UT","h":3734,"e":1.69},{"t":"09:44:22 UT","h":3764,"e":1.6},{"t":"09:44:22 UT","h":3794,"e":1.54},{"t":"09:44:22 UT","h":3824,"e":1.6},{"t":"09:44:22 UT","h":3854,"e":1.65},{"t":"09:44:22 UT","h":3895,"e":1.7},{"t":"09:44:22 UT","h":3935,"e":1.77},{"t":"09:44:22 UT","h":3975,"e":1.85},{"t":"09:44:22 UT","h":4015,"e":1.92},{"t":"09:44:22 UT","h":4045,"e":1.85},{"t":"09:44:22 UT","h":4075,"e":1.77},{"t":"09:44:22 UT","h":4105,"e":1.85},{"t":"09:44:22 UT","h":4136,"e":1.92},{"t":"09:44:22 UT","h":4156,"e":1.7},{"t":"09:44:22 UT","h":4176,"e":1.54},{"t":"09:44:22 UT","h":4206,"e":1.42},{"t":"09:44:22 UT","h":4236,"e":1.31},{"t":"09:44:22 UT","h":4266,"e":1.4},{"t":"09:44:22 UT","h":4296,"e":1.5},{"t":"09:44:22 UT","h":4337,"e":1.65},{"t":"09:44:22 UT","h":4377,"e":1.77},{"t":"09:44:22 UT","h":4417,"e":1.75},{"t":"09:44:22 UT","h":4457,"e":1.73},{"t":"09:44:22 UT","h":4497,"e":1.8},{"t":"09:44:22 UT","h":4537,"e":1.84},{"t":"09:44:22 UT","h":4578,"e":1.82},{"t":"09:44:22 UT","h":4618,"e":1.8},{"t":"09:44:22 UT","h":4658,"e":1.75},{"t":"09:44:22 UT","h":4698,"e":1.77},{"t":"09:44:22 UT","h":4728,"e":1.65},{"t":"09:44:22 UT","h":4759,"e":1.5},{"t":"09:44:22 UT","h":4790,"e":1.7},{"t":"09:44:22 UT","h":4819,"e":1.88},{"t":"09:44:22 UT","h":4859,"e":1.86},{"t":"09:44:22 UT","h":4899,"e":1.84},{"t":"09:44:22 UT","h":4930,"e":1.6},{"t":"09:44:22 UT","h":4960,"e":1.31},{"t":"09:44:22 UT","h":4990,"e":1.38},{"t":"09:44:22 UT","h":5020,"e":1.46},{"t":"09:44:22 UT","h":5050,"e":1.7},{"t":"09:44:22 UT","h":5080,"e":1.92},{"t":"09:44:22 UT","h":5110,"e":2.1},{"t":"09:44:22 UT","h":5141,"e":2.3},{"t":"09:44:22 UT","h":5171,"e":2.45},{"t":"09:44:22 UT","h":5201,"e":2.6},{"t":"09:44:22 UT","h":5221,"e":2.8},{"t":"09:44:22 UT","h":5241,"e":2.98},{"t":"09:44:22 UT","h":5270,"e":3.0},{"t":"09:44:22 UT","h":5301,"e":3.09},{"t":"09:44:22 UT","h":5330,"e":2.95},{"t":"09:44:22 UT","h":5362,"e":2.83},{"t":"09:44:22 UT","h":5392,"e":2.6},{"t":"09:44:22 UT","h":5422,"e":2.37},{"t":"09:44:22 UT","h":5442,"e":2.25},{"t":"09:44:22 UT","h":5462,"e":2.14},{"t":"09:44:22 UT","h":5478,"e":2.4},{"t":"09:44:22 UT","h":5500,"e":2.56},
{"t":"10:18:17 UT","h":750,"e":7.55},{"t":"10:18:17 UT","h":800,"e":7.5},{"t":"10:18:17 UT","h":900,"e":7.43},{"t":"10:18:17 UT","h":1020,"e":7.33},{"t":"10:18:17 UT","h":1145,"e":7.25},{"t":"10:18:17 UT","h":1265,"e":7.13},{"t":"10:18:17 UT","h":1385,"e":6.97},{"t":"10:18:17 UT","h":1505,"e":6.82},{"t":"10:18:17 UT","h":1630,"e":6.6},{"t":"10:18:17 UT","h":1750,"e":6.3},{"t":"10:18:17 UT","h":1870,"e":5.96},{"t":"10:18:17 UT","h":1990,"e":5.62},{"t":"10:18:17 UT","h":2110,"e":5.24},{"t":"10:18:17 UT","h":2230,"e":4.79},{"t":"10:18:17 UT","h":2300,"e":4.5},{"t":"10:18:17 UT","h":2350,"e":4.25},{"t":"10:18:17 UT","h":2400,"e":4.05},{"t":"10:18:17 UT","h":2450,"e":3.95},{"t":"10:18:17 UT","h":2487,"e":3.89},{"t":"10:18:17 UT","h":2530,"e":3.85},{"t":"10:18:17 UT","h":2568,"e":3.81},{"t":"10:18:17 UT","h":2610,"e":3.72},{"t":"10:18:17 UT","h":2648,"e":3.66},{"t":"10:18:17 UT","h":2690,"e":3.62},{"t":"10:18:17 UT","h":2729,"e":3.58},{"t":"10:18:17 UT","h":2770,"e":3.48},{"t":"10:18:17 UT","h":2809,"e":3.39},{"t":"10:18:17 UT","h":2850,"e":3.33},{"t":"10:18:17 UT","h":2889,"e":3.28},{"t":"10:18:17 UT","h":2930,"e":3.2},{"t":"10:18:17 UT","h":2970,"e":3.13},{"t":"10:18:17 UT","h":3010,"e":3.07},{"t":"10:18:17 UT","h":3050,"e":3.02},{"t":"10:18:17 UT","h":3090,"e":2.9},{"t":"10:18:17 UT","h":3131,"e":2.79},{"t":"10:18:17 UT","h":3171,"e":2.66},{"t":"10:18:17 UT","h":3211,"e":2.52},{"t":"10:18:17 UT","h":3251,"e":2.42},{"t":"10:18:17 UT","h":3291,"e":2.33},{"t":"10:18:17 UT","h":3332,"e":2.25},{"t":"10:18:17 UT","h":3372,"e":2.18},{"t":"10:18:17 UT","h":3412,"e":2.12},{"t":"10:18:17 UT","h":3452,"e":2.07},{"t":"10:18:17 UT","h":3492,"e":2.0},{"t":"10:18:17 UT","h":3533,"e":1.92},{"t":"10:18:17 UT","h":3573,"e":1.82},{"t":"10:18:17 UT","h":3613,"e":1.73},{"t":"10:18:17 UT","h":3653,"e":1.75},{"t":"10:18:17 UT","h":3693,"e":1.77},{"t":"10:18:17 UT","h":3734,"e":1.8},{"t":"10:18:17 UT","h":3774,"e":1.84},{"t":"10:18:17 UT","h":3814,"e":1.8},{"t":"10:18:17 UT","h":3854,"e":1.77},{"t":"10:18:17 UT","h":3895,"e":1.72},{"t":"10:18:17 UT","h":3935,"e":1.65},{"t":"10:18:17 UT","h":3975,"e":1.55},{"t":"10:18:17 UT","h":4015,"e":1.46},{"t":"10:18:17 UT","h":4055,"e":1.5},{"t":"10:18:17 UT","h":4095,"e":1.54},{"t":"10:18:17 UT","h":4136,"e":1.6},{"t":"10:18:17 UT","h":4176,"e":1.65},{"t":"10:18:17 UT","h":4216,"e":1.75},{"t":"10:18:17 UT","h":4256,"e":1.84},{"t":"10:18:17 UT","h":4296,"e":1.95},{"t":"10:18:17 UT","h":4337,"e":2.07},{"t":"10:18:17 UT","h":4377,"e":2.2},{"t":"10:18:17 UT","h":4417,"e":2.3},{"t":"10:18:17 UT","h":4457,"e":2.38},{"t":"10:18:17 UT","h":4497,"e":2.45},{"t":"10:18:17 UT","h":4527,"e":2.6},{"t":"10:18:17 UT","h":4557,"e":2.83},{"t":"10:18:17 UT","h":4585,"e":3.0},{"t":"10:18:17 UT","h":4610,"e":3.22},{"t":"10:18:17 UT","h":4635,"e":3.05},{"t":"10:18:17 UT","h":4658,"e":2.9},{"t":"10:18:17 UT","h":4690,"e":2.7},{"t":"10:18:17 UT","h":4718,"e":2.52},{"t":"10:18:17 UT","h":4750,"e":2.45},{"t":"10:18:17 UT","h":4779,"e":2.37},{"t":"10:18:17 UT","h":4820,"e":2.25},{"t":"10:18:17 UT","h":4859,"e":2.14},{"t":"10:18:17 UT","h":4900,"e":2.18},{"t":"10:18:17 UT","h":4940,"e":2.22},{"t":"10:18:17 UT","h":4980,"e":2.15},{"t":"10:18:17 UT","h":5020,"e":2.07},{"t":"10:18:17 UT","h":5060,"e":2.25},{"t":"10:18:17 UT","h":5100,"e":2.52},{"t":"10:18:17 UT","h":5130,"e":2.85},{"t":"10:18:17 UT","h":5161,"e":3.2},{"t":"10:18:17 UT","h":5190,"e":3.15},{"t":"10:18:17 UT","h":5221,"e":3.05},{"t":"10:18:17 UT","h":5250,"e":2.95},{"t":"10:18:17 UT","h":5281,"e":2.9},{"t":"10:18:17 UT","h":5310,"e":2.8},{"t":"10:18:17 UT","h":5342,"e":2.75},{"t":"10:18:17 UT","h":5372,"e":2.8},{"t":"10:18:17 UT","h":5402,"e":2.83},{"t":"10:18:17 UT","h":5432,"e":3.0},{"t":"10:18:17 UT","h":5462,"e":3.13},{"t":"10:18:17 UT","h":5480,"e":3.25},{"t":"10:18:17 UT","h":5500,"e":3.39}
]
},
"spacing": 26,
"resolve": {"legend": {"color": "independent"}},
"hconcat": [
{
 "width": 391, "height": 390,
 "title": {"text": "×10⁻⁵", "anchor": "start", "frame": "group", "fontSize": 11.5, "fontWeight": "normal", "offset": 2, "color": "#262626"},
 "data": {"name": "L"},
 "layer": [
  {"mark": {"type": "line", "strokeWidth": 1.3, "clip": true},
   "encoding": {
    "x": {"field": "h", "type": "quantitative", "scale": {"domain": [765, 5500], "nice": false, "zero": false}, "axis": {"values": [1000,1500,2000,2500,3000,3500,4000,4500,5000,5500], "format": "d", "title": "Height [m]", "titlePadding": 6}},
    "y": {"field": "e", "type": "quantitative", "scale": {"domain": [-3, 13], "nice": false, "zero": false}, "axis": {"values": [-2,0,2,4,6,8,10,12], "title": "Extinction [m⁻¹]", "labelExpr": "'' + datum.value", "titlePadding": -4}},
    "color": {"field": "t", "type": "nominal", "scale": {"domain": ["08:02:36 UT","08:36:32 UT","09:10:27 UT","09:44:22 UT","10:18:17 UT"], "range": ["#7E2F8E","#A2142F","#EDB120","#4DBEEE","#D95319"]}, "legend": {"title": null, "orient": "none", "legendX": 261, "legendY": 13}}
   }},
  {"mark": {"type": "point", "opacity": 0},
   "encoding": {
    "x": {"field": "h", "type": "quantitative", "axis": {"orient": "top", "values": [1000,1500,2000,2500,3000,3500,4000,4500,5000,5500], "labels": false, "title": null}},
    "y": {"field": "e", "type": "quantitative", "axis": {"orient": "right", "values": [-2,0,2,4,6,8,10,12], "labels": false, "title": null}}
   }}
 ],
 "resolve": {"axis": {"x": "independent", "y": "independent"}}
},
{
 "width": 393, "height": 390,
 "title": {"text": "×10⁻⁵", "anchor": "start", "frame": "group", "fontSize": 11.5, "fontWeight": "normal", "offset": 2, "color": "#262626"},
 "data": {"name": "R"},
 "layer": [
  {"mark": {"type": "line", "strokeWidth": 1.3, "clip": true},
   "encoding": {
    "x": {"field": "h", "type": "quantitative", "scale": {"domain": [750, 5500], "nice": false, "zero": false}, "axis": {"values": [1000,1500,2000,2500,3000,3500,4000,4500,5000,5500], "format": "d", "title": "Height [m]", "titlePadding": 6}},
    "y": {"field": "e", "type": "quantitative", "scale": {"domain": [-0.3, 8.6], "nice": false, "zero": false}, "axis": {"values": [0,1,2,3,4,5,6,7,8], "title": "Extinction [m⁻¹]", "labelExpr": "'' + datum.value", "titlePadding": 1}},
    "color": {"field": "t", "type": "nominal", "scale": {"domain": ["08:02:36 UT","08:36:32 UT","09:10:27 UT","09:44:22 UT","10:18:17 UT"], "range": ["#7E2F8E","#A2142F","#EDB120","#4DBEEE","#D95319"]}, "legend": {"title": null, "orient": "none", "legendX": 267, "legendY": 11}}
   }},
  {"mark": {"type": "point", "opacity": 0},
   "encoding": {
    "x": {"field": "h", "type": "quantitative", "axis": {"orient": "top", "values": [1000,1500,2000,2500,3000,3500,4000,4500,5000,5500], "labels": false, "title": null}},
    "y": {"field": "e", "type": "quantitative", "axis": {"orient": "right", "values": [0,1,2,3,4,5,6,7,8], "labels": false, "title": null}}
   }}
 ],
 "resolve": {"axis": {"x": "independent", "y": "independent"}}
}
]
}
